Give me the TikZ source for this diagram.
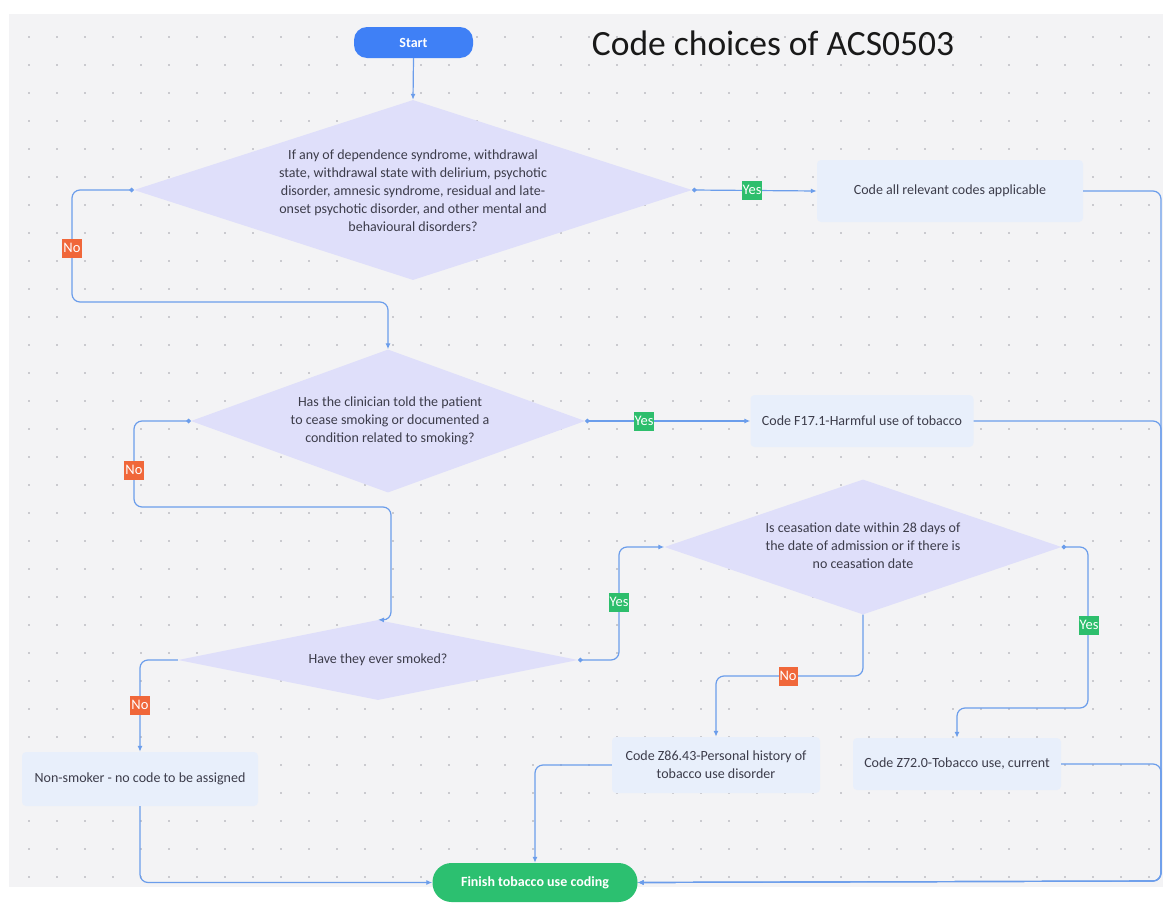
\documentclass[tikz,border=0pt]{standalone}
\usepackage{fontspec}
\setmainfont{Carlito}
\usetikzlibrary{arrows.meta,shapes.geometric}
\definecolor{bgc}{HTML}{F3F3F5}
\definecolor{dotc}{HTML}{CACACF}
\definecolor{linec}{HTML}{6B9DEB}
\definecolor{diac}{HTML}{DFDFFA}
\definecolor{boxc}{HTML}{E8EFFB}
\definecolor{startc}{HTML}{3F80F6}
\definecolor{finc}{HTML}{2CC070}
\definecolor{yesc}{HTML}{2DBE6C}
\definecolor{noc}{HTML}{F0673A}
\definecolor{txtc}{HTML}{3C3C4A}
\tikzset{
  decision/.style={diamond, fill=diac, inner sep=0pt, draw=none},
  qtext/.style={align=center, text=txtc, font=\fontsize{14}{18}\selectfont, inner sep=0pt},
  codebox/.style={rectangle, rounded corners=4pt, fill=boxc, align=center, text=txtc,
    font=\fontsize{14}{18}\selectfont, inner sep=0pt},
  terminal/.style={rectangle, rounded corners=13pt, text=white,
    font=\bfseries\fontsize{14}{16}\selectfont, inner sep=0pt},
  edge/.style={draw=linec, line width=1.2pt, rounded corners=8pt, -{Latex[length=6pt,width=5pt]}},
  dotedge/.style={edge, {Circle[length=4.5pt]}-{Latex[length=6pt,width=5pt]}},
  yeslab/.style={fill=yesc, text=white, font=\fontsize{14.5}{14}\selectfont, inner xsep=1pt, inner ysep=2pt, minimum height=19pt},
  nolab/.style={fill=noc, text=white, font=\fontsize{14.5}{14}\selectfont, inner xsep=1pt, inner ysep=2pt, minimum height=19pt},
}
\begin{document}
\begin{tikzpicture}[x=1pt,y=-1pt]
\useasboundingbox (0,0) rectangle (1163,905);
\fill[white] (0,0) rectangle (1163,905);
\fill[bgc] (9,14) rectangle (1163,887);
\foreach \i in {0,...,40} {
  \foreach \j in {0,...,30} {
    \fill[dotc] ({28+28*\i},{36+28*\j}) rectangle ++(2.2,2.2);
  }
}
% title
\node[text=black!90, font=\fontsize{35.5}{38}\selectfont, inner sep=0pt] (title) at (773,43) {Code choices of ACS0503};
% nodes
\node[terminal, fill=startc, minimum width=119pt, minimum height=31pt] (start) at (413.5,42.5) {Start};
\node[decision, minimum width=558pt, minimum height=180pt] (d1) at (413,190) {};
\node[qtext] (d1t) at (413,191) {If any of dependence syndrome, withdrawal\\state, withdrawal state with delirium, psychotic\\disorder, amnesic syndrome, residual and late-\\onset psychotic disorder, and other mental and\\behavioural disorders?};
\node[codebox, minimum width=266pt, minimum height=62pt] (b1) at (950,191) {Code all relevant codes applicable};
\node[decision, minimum width=394pt, minimum height=143pt] (d2) at (388,421) {};
\node[qtext] (d2t) at (390,421) {Has the clinician told the patient\\to cease smoking or documented a\\condition related to smoking?};
\node[codebox, minimum width=223pt, minimum height=52pt] (b2) at (862,421) {Code F17.1-Harmful use of tobacco};
\node[decision, minimum width=400pt, minimum height=80pt] (d3) at (378,660) {};
\node[qtext] (d3t) at (378,660) {Have they ever smoked?};
\node[decision, minimum width=397pt, minimum height=135pt] (d4) at (863,547) {};
\node[qtext] (d4t) at (863,546) {Is ceasation date within 28 days of\\the date of admission or if there is\\no ceasation date};
\node[codebox, minimum width=236pt, minimum height=54pt] (ns) at (140,779) {Non-smoker - no code to be assigned};
\node[codebox, minimum width=208pt, minimum height=56pt] (z86) at (716,765) {Code Z86.43-Personal history of\\tobacco use disorder};
\node[codebox, minimum width=208pt, minimum height=52pt] (z72) at (957,764) {Code Z72.0-Tobacco use, current};
\node[terminal, fill=finc, rounded corners=19pt, minimum width=205pt, minimum height=39pt] (fin) at (535,882.5) {Finish tobacco use coding};
% connectors
\draw[edge] (start.south) -- (d1.north);
\draw[dotedge] (d1.east) -- (b1.west);
\node[yeslab] (y1) at (752,190) {Yes};
\draw[dotedge] (d1.west) -- (72,190) -- (72,302) -- (388,302) -- (d2.north);
\node[nolab] (n1) at (72,248) {No};
\draw[dotedge] (d2.east) -- (b2.west);
\node[yeslab] (y2) at (644,421) {Yes};
\draw[dotedge] (d2.west) -- (134,421) -- (134,507) -- (391,507) -- (391,620) -- (d3.north);
\node[nolab] (n2) at (134,470) {No};
\draw[dotedge] (d3.east) -- (619,660) -- (619,547) -- (d4.west);
\node[yeslab] (y3) at (619,602) {Yes};
\draw[edge] (d3.west) -- (140,660) -- (ns.north);
\node[nolab] (n3) at (140,705) {No};
\draw[edge] (d4.south) -- (863,676) -- (716,676) -- (z86.north);
\node[nolab] (n4) at (788,676) {No};
\draw[dotedge] (d4.east) -- (1088,547) -- (1088,708) -- (957,708) -- (z72.north);
\node[yeslab] (y4) at (1089,625) {Yes};
\draw[edge] (b1.east) -- (1161,191) -- (1161,881) -- (fin.east);
\draw[edge] (b2.east) -- (1161,421) -- (1161,881) -- (fin.east);
\draw[edge] (z72.east) -- (1161,764) -- (1161,881) -- (fin.east);
\draw[edge] (z86.west) -| (fin.north);
\draw[edge] (ns.south) |- (fin.west);
\end{tikzpicture}
\end{document}
